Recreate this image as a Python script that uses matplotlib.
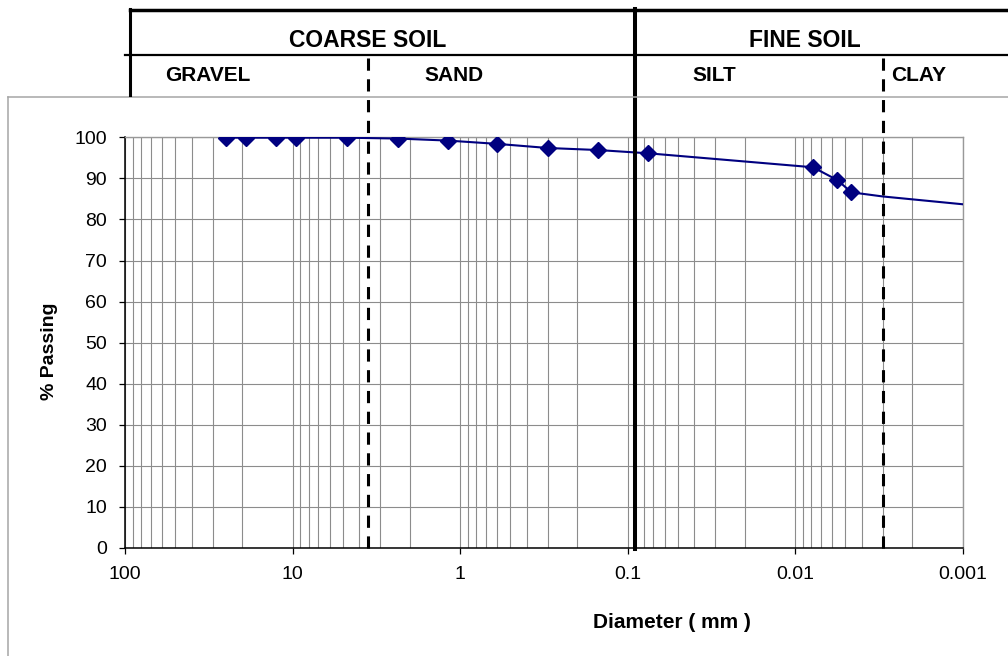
import matplotlib
matplotlib.use("Agg")
import matplotlib.pyplot as plt
import matplotlib.transforms as mtransforms
from matplotlib.lines import Line2D
from matplotlib.ticker import LogLocator, NullFormatter, FixedLocator

plt.rcParams['font.family'] = ['Liberation Sans', 'DejaVu Sans']

# sieve / hydrometer results (mm, % passing)
diam = [25, 19, 12.5, 9.5, 4.75, 2.36, 1.18, 0.6, 0.3, 0.15, 0.075, 0.0078, 0.0056, 0.0046]
passing = [99.9, 99.9, 99.9, 99.9, 99.9, 99.7, 99.2, 98.4, 97.4, 96.9, 96.1, 92.7, 89.6, 86.6]

# the fitted curve runs on past the last reading
tail_diam = [0.003, 0.001]
tail_passing = [85.6, 83.7]

xticks = [100, 10, 1, 0.1, 0.01, 0.001]
xtick_labels = ['100', '10', '1', '0.1', '0.01', '0.001']
yticks = [0, 10, 20, 30, 40, 50, 60, 70, 80, 90, 100]

# soil class boundaries as drawn on the sheet (mm)
gravel_sand = 3.54
coarse_fine = 0.0902
silt_clay = 0.00299

W, H = 1008, 656
navy = '#000080'
grid_grey = '#8c8c8c'


def fx(x):
    return x / W


def fy(y):
    return 1 - y / H


fig = plt.figure(figsize=(W / 100, H / 100), dpi=100)
ax = fig.add_axes([fx(125), fy(548), (962.5 - 125) / W, (548 - 137.3) / H])

ax.set_xscale('log')
ax.set_xlim(100, 0.001)
ax.set_ylim(0, 100)

ax.xaxis.set_major_locator(FixedLocator(xticks))
ax.set_xticklabels(xtick_labels)
ax.xaxis.set_minor_locator(LogLocator(base=10, subs=range(2, 10), numticks=20))
ax.xaxis.set_minor_formatter(NullFormatter())
ax.set_yticks(yticks)

ax.grid(True, which='both', axis='x', color=grid_grey, lw=0.8)
ax.grid(True, which='major', axis='y', color=grid_grey, lw=0.8)
ax.set_axisbelow(True)

ax.tick_params(which='major', direction='out', length=4, width=0.9,
               labelsize=14, color='black')
ax.tick_params(axis='x', pad=9)
ax.tick_params(axis='y', pad=9)
ax.tick_params(which='minor', length=0)

for s in ['left', 'bottom']:
    ax.spines[s].set_color('black')
    ax.spines[s].set_linewidth(1.1)
for s in ['top', 'right']:
    ax.spines[s].set_color('#999999')
    ax.spines[s].set_linewidth(1.0)

# curve then markers
ax.plot(diam + tail_diam, passing + tail_passing, color=navy, lw=1.5, zorder=3)
ax.plot(diam, passing, linestyle='none', marker='D', ms=8, color=navy, zorder=4)

# chart area border (top and left visible)
border = '#a6a6a6'
fig.add_artist(Line2D([fx(8), 1], [fy(97), fy(97)], transform=fig.transFigure,
                      color=border, lw=1.1))
fig.add_artist(Line2D([fx(8), fx(8)], [fy(97), 0], transform=fig.transFigure,
                      color=border, lw=1.1))

# header table
fig.add_artist(Line2D([fx(130), 1], [fy(10), fy(10)], transform=fig.transFigure,
                      color='black', lw=2.5))
fig.add_artist(Line2D([fx(125), 1], [fy(55), fy(55)], transform=fig.transFigure,
                      color='black', lw=1.6))
fig.add_artist(Line2D([fx(130), fx(130)], [fy(9), fy(95)], transform=fig.transFigure,
                      color='black', lw=2.2))

trans = mtransforms.blended_transform_factory(ax.transData, fig.transFigure)
ax.add_line(Line2D([coarse_fine, coarse_fine], [fy(9), fy(549)], transform=trans,
                   color='black', lw=2.9, clip_on=False, zorder=5))
for b in [gravel_sand, silt_clay]:
    ax.add_line(Line2D([b, b], [fy(58), fy(556)], transform=trans, color='black',
                       lw=2.2, linestyle=(0, (4, 2.8)), clip_on=False, zorder=5))

hdr = dict(fontweight='bold', transform=fig.transFigure, va='baseline')
fig.text(fx(368), fy(47), 'COARSE SOIL', fontsize=16.5, ha='center', **hdr)
fig.text(fx(805), fy(47), 'FINE SOIL', fontsize=16.5, ha='center', **hdr)
fig.text(fx(165), fy(81), 'GRAVEL', fontsize=15, ha='left', **hdr)
fig.text(fx(454), fy(81), 'SAND', fontsize=15, ha='center', **hdr)
fig.text(fx(692), fy(81), 'SILT', fontsize=15, ha='left', **hdr)
fig.text(fx(891), fy(81), 'CLAY', fontsize=15, ha='left', **hdr)

# axis titles
fig.text(fx(672), fy(628), 'Diameter ( mm )', fontsize=15, fontweight='bold',
         ha='center', va='baseline')
fig.text(fx(49), fy(351), '% Passing', fontsize=14, fontweight='bold',
         rotation=90, ha='center', va='center')

fig.savefig('out.png', dpi=100)
